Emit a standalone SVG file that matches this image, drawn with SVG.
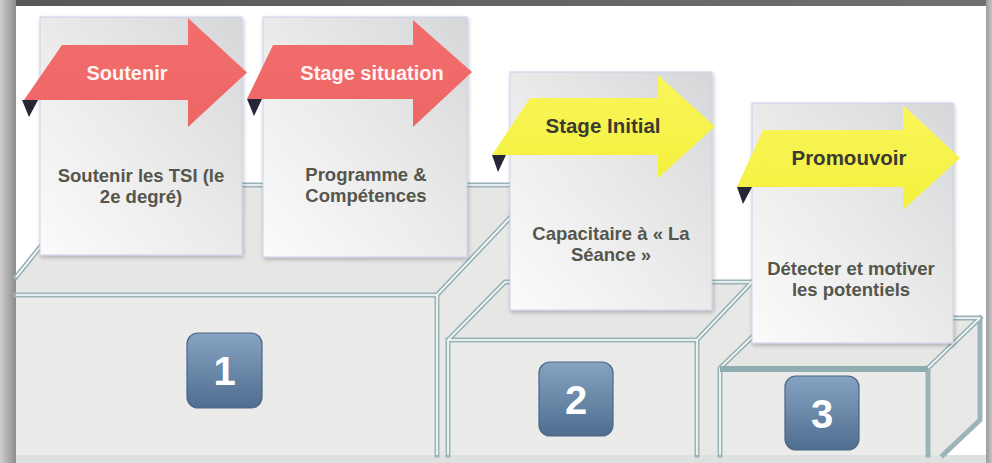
<svg xmlns="http://www.w3.org/2000/svg" width="992" height="463" viewBox="0 0 992 463">
<defs>
<linearGradient id="gTop" x1="0" y1="0" x2="1" y2="0"><stop offset="0" stop-color="#575757"/><stop offset="1" stop-color="#707070"/></linearGradient>
<linearGradient id="gLeft" x1="0" y1="0" x2="1" y2="0"><stop offset="0" stop-color="#cfcfcf"/><stop offset="1" stop-color="#8c8c8c"/></linearGradient>
<linearGradient id="gRight" x1="0" y1="0" x2="1" y2="0"><stop offset="0" stop-color="#9a9a9a"/><stop offset="1" stop-color="#c4c4c4"/></linearGradient>
<linearGradient id="gCard" x1="1" y1="0" x2="0" y2="1"><stop offset="0" stop-color="#d6d7d9"/><stop offset="0.55" stop-color="#ececec"/><stop offset="1" stop-color="#fbfbfb"/></linearGradient>
<linearGradient id="gBadge" x1="0" y1="0" x2="0" y2="1"><stop offset="0" stop-color="#86a3c2"/><stop offset="1" stop-color="#4f6d8f"/></linearGradient>
<linearGradient id="gRed" x1="0" y1="0" x2="0" y2="1"><stop offset="0" stop-color="#f26e6c"/><stop offset="1" stop-color="#ec6664"/></linearGradient>
<linearGradient id="gYel" x1="0" y1="0" x2="0" y2="1"><stop offset="0" stop-color="#f9f65a"/><stop offset="1" stop-color="#f3f03e"/></linearGradient>
<filter id="sh" x="-10%" y="-10%" width="125%" height="125%"><feGaussianBlur in="SourceAlpha" stdDeviation="2"/><feOffset dx="1" dy="2"/><feComponentTransfer><feFuncA type="linear" slope="0.25"/></feComponentTransfer><feMerge><feMergeNode/><feMergeNode in="SourceGraphic"/></feMerge></filter>
</defs>
<style>
.front{fill:#ebebe9}
.top{fill:#e6e7e5}
.side{fill:#e8e9e7}
.edge{stroke:#9ab4b8;stroke-width:5;fill:none;stroke-linecap:square}
.hl{stroke:#ffffff;stroke-width:1.6;fill:none}
.card{fill:url(#gCard);stroke:#cdd0ea;stroke-width:1}
.red{fill:url(#gRed)}
.yel{fill:url(#gYel)}
.fold{fill:#262636}
.lblW{font-family:"Liberation Sans",Arial,sans-serif;font-weight:bold;font-size:20px;fill:#fff4f4;text-anchor:middle}
.lblD{font-family:"Liberation Sans",Arial,sans-serif;font-weight:bold;font-size:20.5px;fill:#3a3a30;text-anchor:middle}
.txt{font-family:"Liberation Sans",Arial,sans-serif;font-weight:bold;font-size:18.5px;fill:#55564c;text-anchor:middle}
.badge{fill:url(#gBadge);stroke:#4a6688;stroke-width:1.2}
.num{font-family:"Liberation Sans",Arial,sans-serif;font-weight:bold;font-size:40px;fill:#ffffff;text-anchor:middle}
</style>

<g id="frame">
<rect x="0" y="0" width="992" height="463" fill="#dde1df"/>
<rect x="16" y="6" width="970" height="449" fill="#ffffff"/>
<rect x="0" y="0" width="992" height="6" fill="url(#gTop)"/>
<rect x="0" y="0" width="16" height="463" fill="url(#gLeft)"/>
<rect x="986" y="0" width="6" height="463" fill="url(#gRight)"/>
</g>

<g id="podium1">
<polygon class="top" points="16,277 90,185 541,185 437,295 16,295"/>
<polygon class="side" points="437,295 541,185 541,455 437,455"/>
<rect class="front" x="16" y="295" width="421" height="160"/>
<path class="edge" d="M16,277 L90,185 L541,185 M16,295 L437,295 L437,455 M437,295 L541,185"/>
<path class="hl" d="M16,277 L90,185 L541,185 M16,295 L437,295 L437,455 M437,295 L541,185"/>
</g>

<g id="podium2">
<polygon class="top" points="448,340 505,282 752,282 697,340"/>
<polygon class="side" points="697,340 752,282 752,455 697,455"/>
<rect class="front" x="448" y="340" width="249" height="115"/>
<path class="edge" d="M448,455 L448,340 L505,282 L752,282 M448,340 L697,340 L697,455 M697,340 L752,282"/>
<path class="hl" d="M448,455 L448,340 L505,282 L752,282 M448,340 L697,340 L697,455 M697,340 L752,282"/>
</g>

<g id="podium3">
<polygon class="top" points="720,368 772,318 980,318 928,368"/>
<polygon class="side" points="928,368 980,318 980,420 943,455 928,455"/>
<rect class="front" x="720" y="368" width="208" height="87"/>
<path class="edge" d="M720,455 L720,368 L772,318 L980,318 L980,420 L943,455 M928,368 L980,318 M928,368 L928,455"/>
<path class="hl" d="M720,455 L720,368 L772,318 L980,318 M928,368 L980,318"/>
<line x1="720" y1="369" x2="928" y2="369" stroke="#8fadb1" stroke-width="6"/>
</g>

<g id="badge1">
<rect class="badge" x="187" y="333" width="75" height="75" rx="11"/>
<text class="num" x="224.5" y="385">1</text>
</g>
<g id="badge2">
<rect class="badge" x="539" y="362" width="74" height="74" rx="11"/>
<text class="num" x="576" y="414">2</text>
</g>
<g id="badge3">
<rect class="badge" x="785" y="376" width="74" height="74" rx="11"/>
<text class="num" x="822" y="428">3</text>
</g>

<g id="node-soutenir">
<rect class="card" x="40" y="17" width="202" height="238" filter="url(#sh)"/>
<text class="txt" x="141" y="182">Soutenir les TSI (le</text>
<text class="txt" x="141" y="203">2e degré)</text>
<polygon class="fold" points="22,100 38,100 29,117"/>
<path class="red" d="M62,45 L188,45 L188,18 L247,72.5 L188,127 L188,100 L24,100 Z"/>
<text class="lblW" x="127" y="80">Soutenir</text>
</g>

<g id="node-stage-situation">
<rect class="card" x="263" y="17" width="204" height="240" filter="url(#sh)"/>
<text class="txt" x="366" y="181">Programme &amp;</text>
<text class="txt" x="366" y="202">Compétences</text>
<polygon class="fold" points="247,99 262,99 254,116"/>
<path class="red" d="M273,45 L413,45 L413,20 L472,72 L413,127 L413,99 L247,99 Z"/>
<text class="lblW" x="372" y="80">Stage situation</text>
</g>

<g id="node-stage-initial">
<rect class="card" x="510" y="72" width="202" height="238" filter="url(#sh)"/>
<text class="txt" x="611" y="240">Capacitaire à « La</text>
<text class="txt" x="611" y="261">Séance »</text>
<polygon class="fold" points="492,155 506,155 498,172"/>
<path class="yel" d="M530,98 L658,98 L658,75 L715,126.5 L658,178 L658,155 L492,155 Z"/>
<text class="lblD" x="603" y="133">Stage Initial</text>
</g>

<g id="node-promouvoir">
<rect class="card" x="752" y="103" width="201" height="240" filter="url(#sh)"/>
<text class="txt" x="851" y="275">Détecter et motiver</text>
<text class="txt" x="851" y="296">les potentiels</text>
<polygon class="fold" points="737,187 752,187 743,204"/>
<path class="yel" d="M763,130 L903,130 L903,105 L960,158 L903,210 L903,187 L737,187 Z"/>
<text class="lblD" x="849" y="165">Promouvoir</text>
</g>

<g id="connectors"/>
</svg>
